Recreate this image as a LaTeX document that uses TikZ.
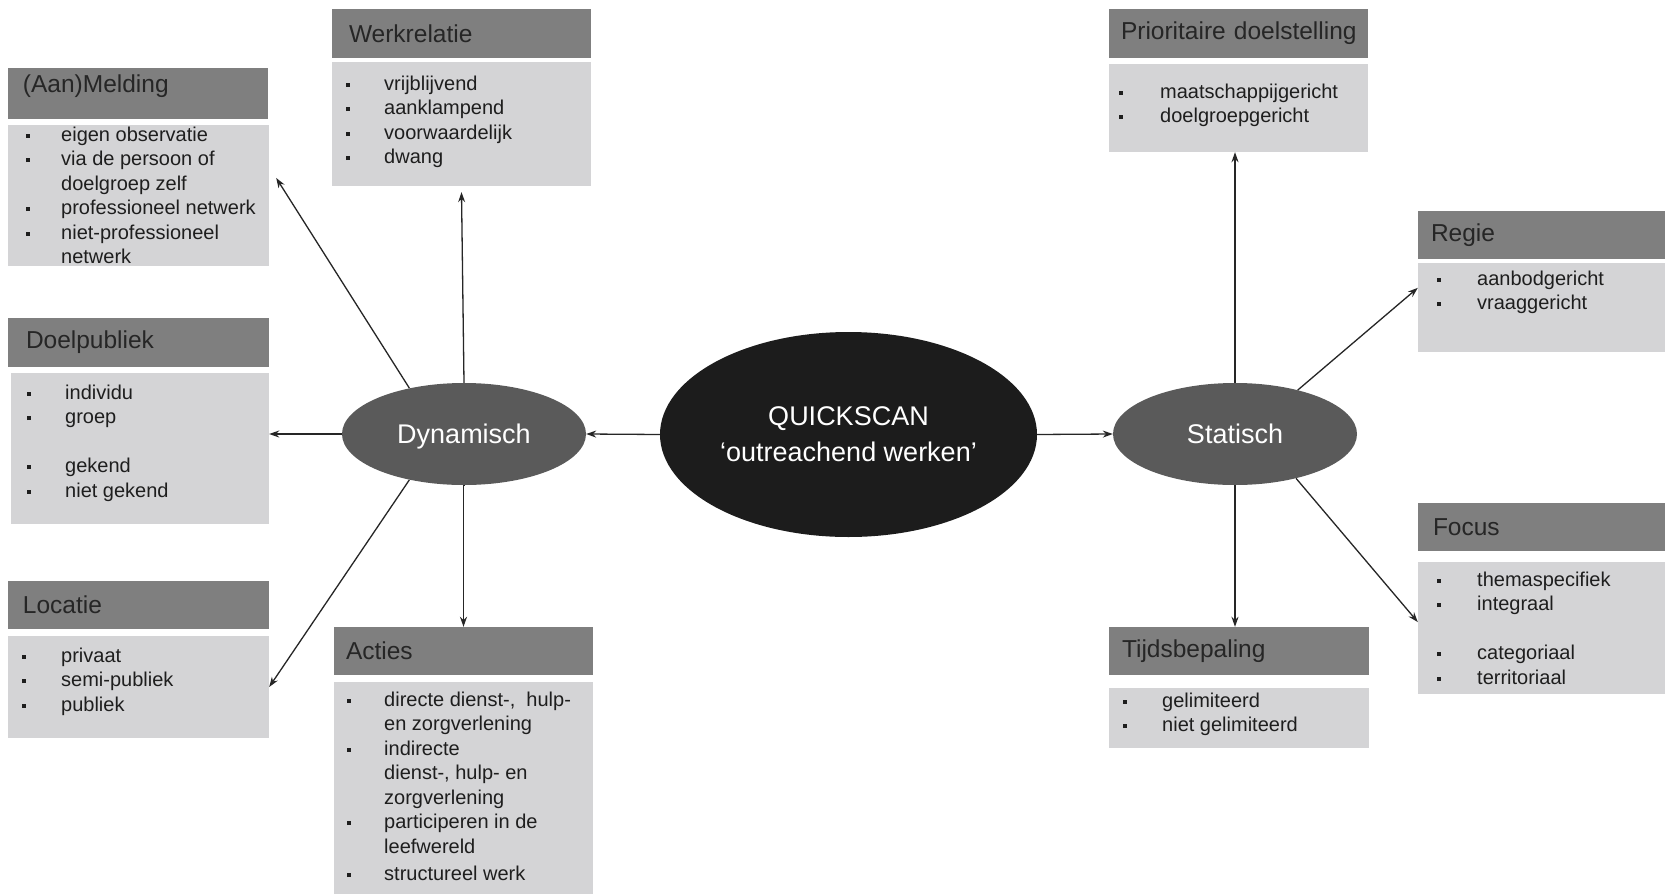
\documentclass[tikz,border=0pt]{standalone}
\usepackage{fontspec}
\setmainfont{Liberation Sans}
\usetikzlibrary{shapes.geometric,arrows.meta,calc}
\definecolor{hdr}{HTML}{7F7F7F}
\definecolor{bdy}{HTML}{D4D4D6}
\definecolor{ovl}{HTML}{5A5A5A}
\definecolor{core}{HTML}{1C1C1C}
\definecolor{htxt}{HTML}{262626}
\definecolor{btc}{HTML}{1E1E1E}
\newcommand{\bi}[2]{\rule[-5pt]{0pt}{20pt}\makebox[#1pt][l]{\rule[3.5pt]{4pt}{4pt}}#2}
\newcommand{\ci}[2]{\rule[-5pt]{0pt}{20pt}\hspace*{#1pt}#2}
\begin{document}
\begin{tikzpicture}[x=1pt,y=-1pt,
  hbox/.style={fill=hdr, inner ysep=0pt, align=left, text=htxt, font=\fontsize{24.5}{28}\selectfont},
  bbox/.style={fill=bdy, inner sep=0pt},
  btxt/.style={anchor=north west, inner sep=0pt, align=left, text=btc, font=\fontsize{20}{24.5}\selectfont},
  ell/.style={ellipse, inner sep=0pt, text=white, align=center, font=\fontsize{27}{36}\selectfont},
  arr/.style={draw=black!85, line width=1.3pt, -{Stealth[length=10pt,width=7pt]}}]
\useasboundingbox[fill=white] (0,0) rectangle (1665,894);

% (Aan)Melding
\node[hbox, minimum height=51pt, text width=230pt, inner xsep=15pt] (melh) at (138,93.5) {\raisebox{1pt}[0pt][0pt]{(Aan)Melding}};
\node[bbox, minimum width=261pt, minimum height=141pt] (melb) at (138.5,195.5) {};
\node[btxt] (melt) at (26,126) {\bi{35}{eigen observatie}\\ \bi{35}{via de persoon of}\\ \ci{35}{doelgroep zelf}\\ \bi{35}{professioneel netwerk}\\ \bi{35}{niet-professioneel}\\ \ci{35}{netwerk}};

% Werkrelatie
\node[hbox, minimum height=49pt, text width=225pt, inner xsep=17pt] (werh) at (461.5,33.5) {Werkrelatie};
\node[bbox, minimum width=259pt, minimum height=124pt] (werb) at (461.5,124) {};
\node[btxt] (wert) at (346,75) {\bi{38}{vrijblijvend}\\ \bi{38}{aanklampend}\\ \bi{38}{voorwaardelijk}\\ \bi{38}{dwang}};

% Doelpubliek
\node[hbox, minimum height=49pt, text width=225pt, inner xsep=18pt] (doeh) at (138.5,342.5) {Doelpubliek};
\node[bbox, minimum width=258pt, minimum height=151pt] (doeb) at (140,448.5) {};
\node[btxt] (doet) at (27,384) {\bi{38}{individu}\\ \bi{38}{groep}\\[24.5pt] \bi{38}{gekend}\\ \bi{38}{niet gekend}};

% Locatie
\node[hbox, minimum height=48pt, text width=231pt, inner xsep=15pt] (loch) at (138.5,605) {Locatie};
\node[bbox, minimum width=261pt, minimum height=102pt] (locb) at (138.5,687) {};
\node[btxt] (loct) at (22,647) {\bi{39}{privaat}\\ \bi{39}{semi-publiek}\\ \bi{39}{publiek}};

% Acties
\node[hbox, minimum height=48pt, text width=235pt, inner xsep=12pt] (acth) at (463.5,651) {Acties};
\node[bbox, minimum width=259pt, minimum height=212pt] (actb) at (463.5,788) {};
\node[btxt] (actt) at (347,691) {\bi{37}{directe dienst-,\ \ hulp-}\\ \ci{37}{en zorgverlening}\\ \bi{37}{indirecte}\\ \ci{37}{dienst-, hulp- en}\\ \ci{37}{zorgverlening}\\ \bi{37}{participeren in de}\\ \ci{37}{leefwereld}\\[3pt] \bi{37}{structureel werk}};

% Prioritaire doelstelling
\node[hbox, minimum height=49pt, text width=235pt, inner xsep=12pt] (prih) at (1238.5,33.5) {\mbox{Prioritaire doelstelling}};
\node[bbox, minimum width=259pt, minimum height=88pt] (prib) at (1238.5,108) {};
\node[btxt] (prit) at (1119,83) {\bi{41}{maatschappijgericht}\\ \bi{41}{doelgroepgericht}};

% Regie
\node[hbox, minimum height=48pt, text width=221pt, inner xsep=13pt] (regh) at (1541.5,235) {Regie};
\node[bbox, minimum width=247pt, minimum height=89pt] (regb) at (1541.5,307.5) {};
\node[btxt] (regt) at (1437,270) {\bi{40}{aanbodgericht}\\ \bi{40}{vraaggericht}};

% Focus
\node[hbox, minimum height=48pt, text width=217pt, inner xsep=15pt] (foch) at (1541.5,527) {Focus};
\node[bbox, minimum width=247pt, minimum height=132pt] (focb) at (1541.5,628) {};
\node[btxt] (foct) at (1437,571) {\bi{40}{themaspecifiek}\\ \bi{40}{integraal}\\[24.5pt] \bi{40}{categoriaal}\\ \bi{40}{territoriaal}};

% Tijdsbepaling
\node[hbox, minimum height=48pt, text width=234pt, inner xsep=13pt] (tijh) at (1239,651) {Tijdsbepaling};
\node[bbox, minimum width=260pt, minimum height=60pt] (tijb) at (1239,718) {};
\node[btxt] (tijt) at (1123,692) {\bi{39}{gelimiteerd}\\ \bi{39}{niet gelimiteerd}};

% Ellipses
\node[ell, fill=core, minimum width=377pt, minimum height=205pt] (q) at (848.5,434.5) {QUICKSCAN\\‘outreachend werken’};
\node[ell, fill=ovl, minimum width=244pt, minimum height=102pt] (dyn) at (464,434) {\raisebox{-9pt}[0pt][0pt]{Dynamisch}};
\node[ell, fill=ovl, minimum width=244pt, minimum height=102pt] (sta) at (1235,434) {Statisch};

% Connectors
\draw[arr] (q.west) -- (dyn.east);
\draw[arr] (q.east) -- (sta.west);
\draw[arr] (dyn.north) -- ($(werb.south)+(0,6)$);
\draw[arr] (dyn.140) -- ($(melb.north east)!0.376!(melb.south east)+(7,0)$);
\draw[arr] (dyn.west) -- (dyn.west -| doeb.east);
\draw[arr] (dyn.220) -- (locb.east);
\draw[arr] (dyn.south) -- (dyn.south -| acth.north) -- (acth.north);
\draw[arr] (sta.north) -- (sta.north |- prib.south);
\draw[arr] (sta.35) -- ($(regb.north west)!0.28!(regb.south west)$);
\draw[arr] (sta.-36) -- ($(focb.north west)!0.455!(focb.south west)$);
\draw[arr] (sta.south) -- (sta.south |- tijh.north);
\end{tikzpicture}
\end{document}
